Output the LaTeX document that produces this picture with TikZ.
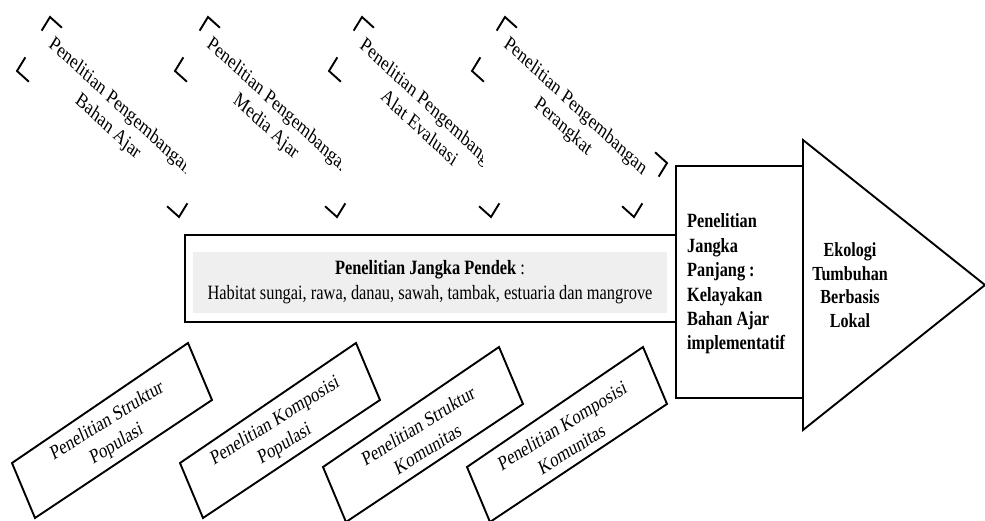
\documentclass[tikz,border=0pt]{standalone}
\usepackage{fontspec}
\setmainfont{Liberation Serif}
\usetikzlibrary{calc}
\definecolor{panelgrey}{HTML}{EFEFEF}
\begin{document}
\begin{tikzpicture}[x=1pt,y=-1pt,
  edge/.style={line width=1.9pt, line join=miter},
  chev/.style={line width=1.9pt},
  stretched/.style={yscale=1.24, inner sep=0},
  toptext/.style={stretched, font=\fontsize{16.8}{20.5}\selectfont, align=center, rotate=-36.9},
  bottext/.style={stretched, font=\fontsize{16.5}{21}\selectfont, align=center, rotate=26.7},
  plaintext/.style={stretched, font=\fontsize{16.4}{19.8}\selectfont},
  boldtext/.style={stretched, font=\fontsize{16.3}{19.7}\selectfont\bfseries},
]
\useasboundingbox (0,0) rectangle (985,521);

% ---------- top boxes (only corner marks visible) ----------
\foreach \i/\tx/\cut/\txt in {
  1/50/185/{Penelitian Pengembangan\\Bahan Ajar},
  2/208/340/{Penelitian Pengembangan\\Media Ajar},
  3/362/482/{Penelitian Pengembangan\\Alat Evaluasi},
  4/505/985/{Penelitian Pengembangan\\Perangkat}}{
  \coordinate (T\i) at (\tx,17);
  \coordinate (L\i) at ($(T\i)+(-33,54)$);
  \coordinate (R\i) at ($(T\i)+(162,146)$);
  \coordinate (B\i) at ($(T\i)+(129,200)$);
  \draw[chev] ($(T\i)!16pt!(L\i)$) -- (T\i) -- ($(T\i)!16pt!(R\i)$);
  \draw[chev] ($(L\i)!16pt!(T\i)$) -- (L\i) -- ($(L\i)!16pt!(B\i)$);
  \draw[chev] ($(B\i)!16pt!(L\i)$) -- (B\i) -- ($(B\i)!16pt!(R\i)$);
  \begin{scope}
    \clip (0,0) rectangle (\cut,230);
    \node[toptext] (top\i) at ($(T\i)+(64,100)$) {\txt};
  \end{scope}
}
\draw[chev] ($(R4)!16pt!(T4)$) -- (R4) -- ($(R4)!16pt!(B4)$);

% ---------- short-term research box ----------
\draw[line width=2.4pt] (185,235) rectangle (676,322);
\fill[panelgrey] (193,252) rectangle (667,313);
\node[plaintext, align=center] (short) at (430,282)
  {\textbf{Penelitian Jangka Pendek} :\\Habitat sungai, rawa, danau, sawah, tambak, estuaria dan mangrove};

% ---------- long-term research box ----------
\draw[edge] (676,166) rectangle (803,398);
\node[boldtext, align=left, anchor=west] (long) at (687,284)
  {Penelitian\\Jangka\\Panjang :\\Kelayakan\\Bahan Ajar\\implementatif};

% ---------- arrow head ----------
\draw[edge] (803,140) -- (985,285) -- (803,430) -- cycle;
\node[boldtext, font=\fontsize{16.1}{19}\selectfont\bfseries, align=center] (goal) at (850,285)
  {Ekologi\\Tumbuhan\\Berbasis\\Lokal};

% ---------- bottom boxes ----------
\foreach \j/\lx/\ly/\txt in {
  1/12/463/{Penelitian Struktur\\Populasi},
  2/180/463/{Penelitian Komposisi\\Populasi},
  3/323/467/{Penelitian Struktur\\Komunitas},
  4/467/467/{Penelitian Komposisi\\Komunitas}}{
  \coordinate (bl\j) at (\lx,\ly);
  \draw[edge] (bl\j) -- ++(176,-120) -- ++(24,57) -- ++(-177,118) -- cycle;
  \node[bottext] (bot\j) at ($(bl\j)+(100,-30)$) {\txt};
}
\end{tikzpicture}
\end{document}
